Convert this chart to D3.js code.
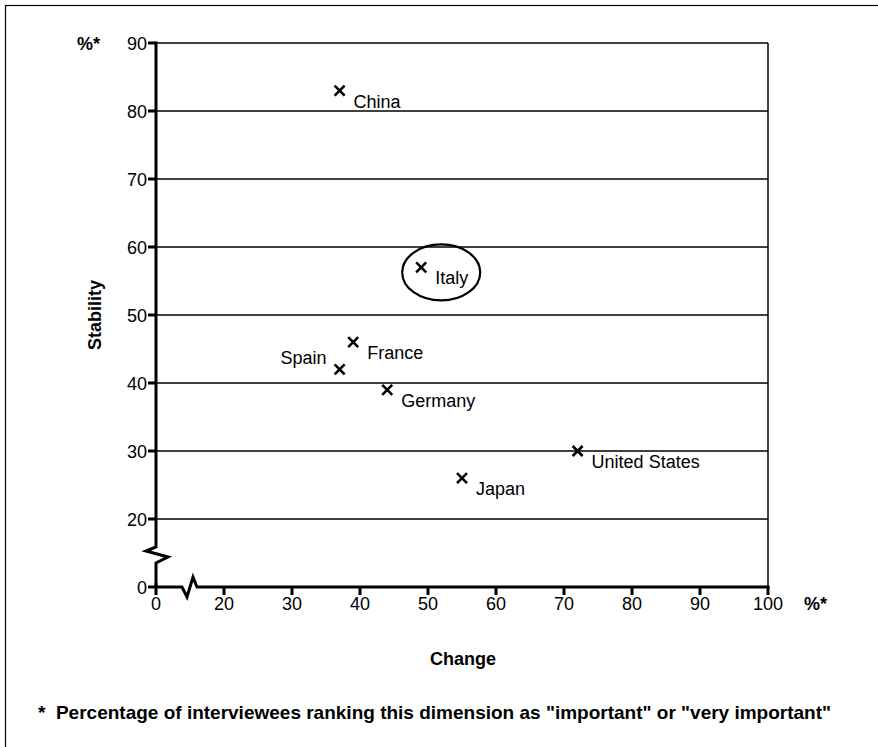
<!DOCTYPE html>
<html><head><meta charset="utf-8">
<script src="https://cdn.jsdelivr.net/npm/d3@7"></script>
<style>body{margin:0;background:#fff}svg{display:block}text{font-family:Arial,"Liberation Sans",sans-serif;fill:#000}</style>
</head><body><svg id="c" width="878" height="747"></svg>
<script>
const countries = ["China","Italy","France","Spain","Germany","United States","Japan"];
const changeVals = [37,49,39,37,44,72,55];
const stabilityVals = [83,57,46,42,39,30,26];
const xTicks = [0,20,30,40,50,60,70,80,90,100];
const yTicks = [0,20,30,40,50,60,70,80,90];
const highlighted = ["Italy"];
const xTitle = "Change", yTitle = "Stability", unitLabel = "%*";
const footnote = "*  Percentage of interviewees ranking this dimension as \"important\" or \"very important\"";

const svg = d3.select("#c");
// frame
svg.append("rect").attr("x",5.5).attr("y",5.5).attr("width",900).attr("height",800)
  .attr("fill","none").attr("stroke","#000").attr("stroke-width",1.2);

const xl = d3.scaleLinear().domain([10,100]).range([156,768]);
const yl = d3.scaleLinear().domain([10,90]).range([587,43]);
const X = v => v===0 ? xl(10) : xl(v);
const Y = v => v===0 ? yl(10) : yl(v);
const x0 = X(0), y0 = Y(0), x1 = X(100), y1 = Y(90);
const fs = 18;

// gridlines
svg.append("g").selectAll("line").data(yTicks.filter(d=>d>0)).join("line")
  .attr("x1",x0).attr("x2",x1).attr("y1",d=>Y(d)).attr("y2",d=>Y(d))
  .attr("stroke","#000").attr("stroke-width",1.3);
// right border of plot
svg.append("line").attr("x1",x1).attr("x2",x1).attr("y1",y1).attr("y2",y0)
  .attr("stroke","#000").attr("stroke-width",1.5);

// y axis with break
const yb = Y(0) - 40;
svg.append("path").attr("fill","none").attr("stroke","#000").attr("stroke-width",3).attr("stroke-linejoin","miter")
  .attr("d",`M${x0},${y1-1.5}V${yb}L${x0-10},${yb+4}L${x0+12},${yb+10}L${x0},${yb+16}V${y0}`);
// x axis with break
const xb = X(0) + 26;
svg.append("path").attr("fill","none").attr("stroke","#000").attr("stroke-width",3)
  .attr("d",`M${x0},${y0}H${xb}L${xb+5},${y0+10}L${xb+11},${y0-10}L${xb+15},${y0}H${x1+1.5}`);

// y ticks
const yg = svg.append("g");
yg.selectAll("line").data(yTicks).join("line")
  .attr("x1",x0-8).attr("x2",x0).attr("y1",d=>Y(d)).attr("y2",d=>Y(d))
  .attr("stroke","#000").attr("stroke-width",3);
yg.selectAll("text").data(yTicks).join("text")
  .attr("x",x0-9).attr("y",d=>Y(d)+6.5).attr("text-anchor","end")
  .attr("font-size",fs).text(d=>d);
// x ticks
const xg = svg.append("g");
xg.selectAll("line").data(xTicks).join("line")
  .attr("x1",d=>X(d)).attr("x2",d=>X(d)).attr("y1",d=>d===0?y0-4:y0).attr("y2",y0+8)
  .attr("stroke","#000").attr("stroke-width",3);
xg.selectAll("text").data(xTicks).join("text")
  .attr("x",d=>X(d)).attr("y",y0+23).attr("text-anchor","middle")
  .attr("font-size",fs).text(d=>d);

// unit labels
svg.append("text").attr("x",77).attr("y",50).attr("font-size",fs).attr("font-weight","bold").text(unitLabel);
svg.append("text").attr("x",804).attr("y",y0+23).attr("font-size",fs).attr("font-weight","bold").text(unitLabel);

// axis titles
svg.append("text").attr("x",463).attr("y",665).attr("text-anchor","middle")
  .attr("font-size",fs).attr("font-weight","bold").text(xTitle);
svg.append("text").attr("transform","translate(101,315) rotate(-90)").attr("text-anchor","middle")
  .attr("font-size",fs).attr("font-weight","bold").text(yTitle);
svg.append("text").attr("x",38).attr("y",719)
  .attr("font-size",19).attr("font-weight","bold").style("white-space","pre").text(footnote);

// points
const data = countries.map((c,i)=>({c, x:changeVals[i], y:stabilityVals[i]}));
const pg = svg.append("g");
const s = 5;
pg.selectAll("path").data(data).join("path")
  .attr("d",d=>{const px=X(d.x), py=Y(d.y);return `M${px-s},${py-s}L${px+s},${py+s}M${px-s},${py+s}L${px+s},${py-s}`;})
  .attr("stroke","#000").attr("stroke-width",2.6).attr("fill","none");
pg.selectAll("text").data(data).join("text")
  .attr("x",d=>d.c==="Spain"?X(d.x)-13:X(d.x)+14)
  .attr("y",d=>d.c==="Spain"?Y(d.y)-5:Y(d.y)+17)
  .attr("text-anchor",d=>d.c==="Spain"?"end":"start")
  .attr("font-size",fs).text(d=>d.c);

// highlight ellipse
data.filter(d=>highlighted.includes(d.c)).forEach(d=>{
  svg.append("ellipse").attr("cx",X(d.x)+20).attr("cy",Y(d.y)+5)
    .attr("rx",39).attr("ry",28).attr("fill","none").attr("stroke","#000").attr("stroke-width",2.2);
});
</script></body></html>
